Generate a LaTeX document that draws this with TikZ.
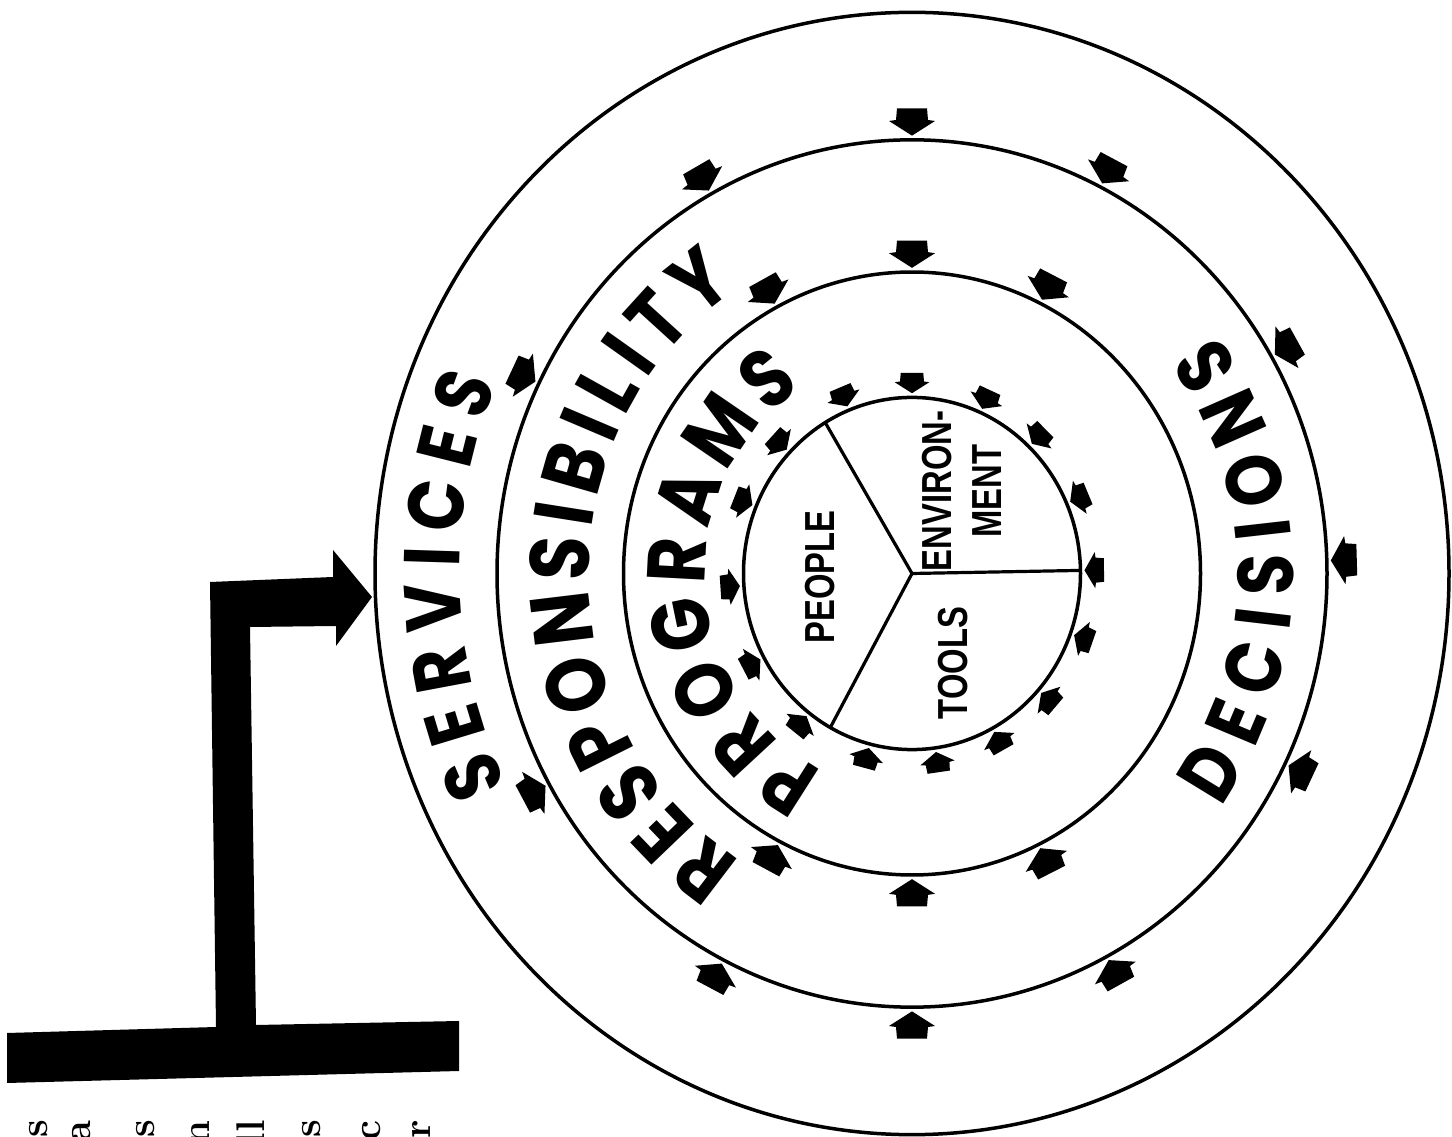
\documentclass[tikz,border=0pt]{standalone}
\usepackage{fontspec}
\usetikzlibrary{decorations.text}
\newfontfamily\arcfam{Poppins}[FakeStretch=0.85]
\newfontfamily\labfam{Liberation Sans}[FakeStretch=0.78]
\newcommand\inarr[3]{%
  \fill[rotate=#1] ({#2+4},0) -- ({#2+4+14*#3},{23*#3}) -- ({#2+4+15*#3},{16*#3})
    -- ({#2+4+26*#3},{15*#3}) -- ({#2+4+26*#3},{-15*#3}) -- ({#2+4+15*#3},{-16*#3})
    -- ({#2+4+14*#3},{-23*#3}) -- cycle;}
\tikzset{
  ring/.style={draw=black, line width=3.5pt},
  spoke/.style={draw=black, line width=3.2pt},
  innerlab/.style={font=\labfam\bfseries\fontsize{42}{50}\selectfont, rotate=90, align=center, inner sep=0pt},
  bigarrow/.style={fill=black},
  scrap/.style={font=\rmfamily\bfseries\fontsize{40}{40}\selectfont, rotate=90, inner sep=0pt, anchor=mid east},
}
\begin{document}
\begin{tikzpicture}[x=1pt, y=1pt]
\fill[white] (0,0) rectangle (1452,1136);
\useasboundingbox (0,0) rectangle (1452,1136);
\begin{scope}
\clip (0,0) rectangle (1452,1136);
% L-shaped feed arrow and T bar
\fill[bigarrow] (7,53) -- (7,103) -- (216,109) -- (210,554) -- (333,559) -- (333,586)
  -- (372,539) -- (336,490) -- (336,510) -- (250,509) -- (256,111) -- (459,115)
  -- (459,65) -- cycle;
% scraps of cut-off text at bottom
\node[scrap] (t1) at (45,16) {s};
\node[scrap] (t2) at (88,16) {a};
\node[scrap] (t3) at (152,16) {s};
\node[scrap] (t4) at (207,16) {n};
\node[scrap] (t5) at (262,16) {ll};
\node[scrap] (t6) at (318,16) {s};
\node[scrap] (t7) at (378,16) {c};
\node[scrap] (t8) at (428,16) {or};

\begin{scope}[shift={(912,562.5)}, yscale=1.045]
\coordinate (ctr) at (0,0);
\draw[ring] (ctr) circle[radius=537];
\draw[ring] (ctr) circle[radius=415];
\draw[ring] (ctr) circle[radius=288.5];
\draw[ring] (ctr) circle[radius=168.5];
\coordinate (s1) at (1:168.5);
\coordinate (s2) at (121:168.5);
\coordinate (s3) at (241:168.5);
\draw[spoke] (ctr) -- (s1);
\draw[spoke] (ctr) -- (s2);
\draw[spoke] (ctr) -- (s3);
% small inward arrows
\foreach \a in {1.7,30,63,90,119,154,209,243,270,298,334} {\inarr{\a}{415}{1}}
\foreach \a in {63.6,90,118,242.7,270,296} {\inarr{\a}{288.5}{1}}
\foreach \a in {184,157.7,136.6,112,90,66,46,23.5,1,-20,-41.5,-61.5,-82,-104.5,-127.7,-151.5} {\inarr{\a}{168.5}{0.75}}
% words along the rings
\path[decorate, decoration={text along path, text align=fit to path, raise=-27.5pt,
  text={|\arcfam\bfseries\fontsize{79}{80}\selectfont|SERVICES}}]
  (206.3:480) arc[start angle=206.3, end angle=156.6, radius=480];
\path[decorate, decoration={text along path, text align=fit to path, raise=-29pt,
  text={|\arcfam\bfseries\fontsize{84}{86}\selectfont|RESPONSIBILITY}}]
  (237.6:352) arc[start angle=237.6, end angle=123.4, radius=352];
\path[decorate, decoration={text along path, text align=fit to path, raise=-29pt,
  text={|\arcfam\bfseries\fontsize{82}{84}\selectfont|PROGRAMS}}]
  (243.8:236) arc[start angle=243.8, end angle=122.8, radius=236];
\path[decorate, decoration={text along path, text align=fit to path, raise=-27.5pt,
  text={|\arcfam\bfseries\fontsize{79}{80}\selectfont|DECISIONS}}]
  (-36.4:354) arc[start angle=-36.4, end angle=37.4, radius=354];
\end{scope}
% labels inside the inner circle
\node[innerlab] (people) at (820,559) {PEOPLE};
\node[innerlab] (env) at (962,645) {ENVIRON-\\MENT};
\node[innerlab] (tools) at (953,473) {TOOLS};
\end{scope}
\end{tikzpicture}
\end{document}
